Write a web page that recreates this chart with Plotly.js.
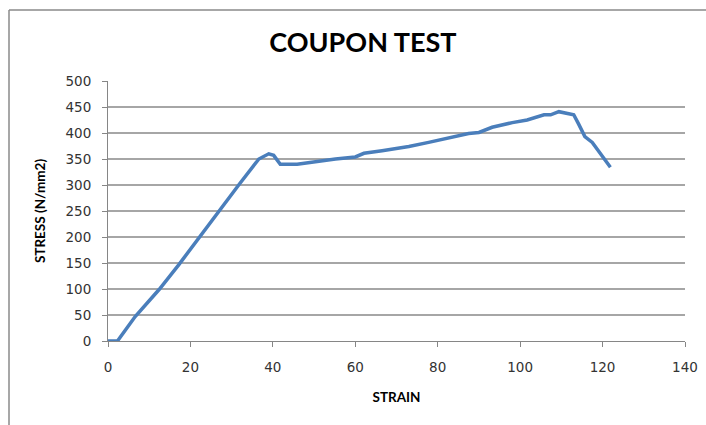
<!DOCTYPE html>
<html>
<head>
<meta charset="utf-8">
<script src="https://cdn.plot.ly/plotly-3.0.1.min.js"></script>
<style>html,body{margin:0;padding:0;background:#fff;}#chart{width:706px;height:425px;}</style>
</head>
<body>
<div id="chart"></div>
<script>
const strain = [0, 2.3, 6.6, 12.4, 17.2, 22.0, 26.9, 31.8, 36.6, 38.0, 39.0, 40.2, 41.8, 45.9, 50.3, 55.2, 60.0, 62.1, 66.5, 68.9, 73.0, 77.8, 82.7, 87.5, 90.0, 93.2, 98.1, 101.7, 105.8, 107.4, 109.4, 111.4, 113.0, 114.2, 115.7, 117.5, 119.9, 121.9];
const stress = [0, 0, 47, 99, 147, 198, 250, 301, 350, 356, 360, 357, 340, 340, 345, 350, 354, 361, 366, 369, 374, 382, 391, 399, 401, 411, 420, 425, 435, 435, 441, 437, 435, 417, 393, 382, 356, 334];
const xTicks = [0, 20, 40, 60, 80, 100, 120, 140];
const yTicks = [0, 50, 100, 150, 200, 250, 300, 350, 400, 450, 500];
const titleText = "COUPON TEST";
const xTitle = "STRAIN";
const yTitle = "STRESS (N/mm2)";

const trace = {
  x: strain, y: stress, type: 'scatter', mode: 'lines',
  line: {color: '#4a7ebb', width: 3.5}, hoverinfo: 'skip'
};
const W = 706, H = 425, L = 108, R = 21, T = 81, B = 84;
const pw = W - L - R, ph = H - T - B;
const bx = (9 - L) / pw, by = 1 + (T - 10) / ph;
const tickFont = {family: 'DejaVu Sans', size: 13.5, color: '#333'};
const layout = {
  width: W, height: H,
  margin: {l: L, r: R, t: T, b: B},
  paper_bgcolor: '#fff', plot_bgcolor: '#fff',
  showlegend: false,
  title: {text: '<b>' + titleText + '</b>', x: 0.514, xanchor: 'center', y: 0.9, yanchor: 'middle',
    font: {family: 'Lato, Open Sans, sans-serif', size: 27, color: '#000'}},
  xaxis: {
    range: [0, 140], tickvals: xTicks, ticktext: xTicks.map(String),
    showgrid: false, zeroline: false, showline: true, linecolor: '#868686', linewidth: 1,
    ticks: 'outside', ticklen: 5, tickcolor: '#868686', ticklabelstandoff: 9,
    tickfont: tickFont,
    title: {text: '<b>' + xTitle + '</b>', standoff: 18, font: {family: 'Lato, Open Sans, sans-serif', size: 13.5, color: '#000'}}
  },
  yaxis: {
    range: [0, 500], tickvals: yTicks, ticktext: yTicks.map(String),
    showgrid: true, gridcolor: '#a6a6a6', gridwidth: 1.2, zeroline: false,
    showline: true, linecolor: '#868686', linewidth: 1,
    ticks: 'outside', ticklen: 5, tickcolor: '#868686', ticklabelstandoff: 8,
    tickfont: tickFont,
    title: {text: '<b>' + yTitle + '</b>', standoff: 16, font: {family: 'Lato, Open Sans, sans-serif', size: 13.5, color: '#000'}}
  },
  shapes: [
    {type: 'line', xref: 'paper', yref: 'paper', x0: bx, x1: 1.2, y0: by, y1: by, line: {color: '#8a8a8a', width: 1.5}},
    {type: 'line', xref: 'paper', yref: 'paper', x0: bx, x1: bx, y0: by, y1: -0.4, line: {color: '#8a8a8a', width: 1.5}}
  ]
};
Plotly.newPlot('chart', [trace], layout, {displayModeBar: false, staticPlot: true});
</script>
</body>
</html>
